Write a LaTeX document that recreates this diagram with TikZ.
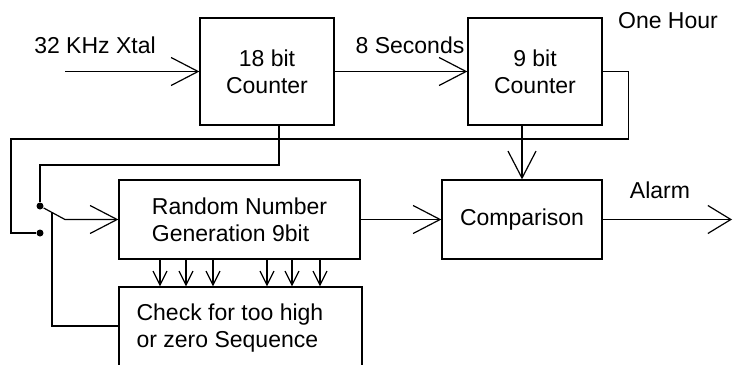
\documentclass[tikz,border=0pt]{standalone}
\usepackage{fontspec}
\setmainfont{Liberation Sans}
\usetikzlibrary{arrows.meta}
\begin{document}
\begin{tikzpicture}[x=1pt,y=-1pt,line width=1.2pt,
  txt/.style={font=\fontsize{23}{27}\selectfont},
  block/.style={txt,draw,rectangle,inner sep=0pt,align=center},
  lbl/.style={txt,inner sep=0pt,anchor=base},
  big/.style={-{Straight Barb[length=27pt,width=28pt]}},
  outarrow/.style={-{Straight Barb[length=23pt,width=28pt]}},
  small/.style={-{Straight Barb[length=14pt,width=14pt]}},
  dot/.style={circle,fill,inner sep=0pt,minimum size=7pt}]
\clip (0,0) rectangle (733,364);

% blocks
\node[block,minimum width=134pt,minimum height=107pt] (cnt18) at (267,71.5) {18 bit\\Counter};
\node[block,minimum width=134pt,minimum height=107pt] (cnt9) at (535,71.5) {9 bit\\Counter};
\node[block,align=left,minimum width=241pt,minimum height=79pt] (rng) at (239.5,219.5) {Random Number\\Generation 9bit};
\node[block,minimum width=160pt,minimum height=79pt] (cmp) at (522,219.5) {Comparison};
\node[draw,inner sep=0pt,minimum width=243pt,minimum height=100pt] (chk) at (240.5,337) {};
\node[lbl,anchor=north west,align=left] (chktxt) at (136,303) {Check for too high\\or zero Sequence};

% labels
\node[lbl] (xtal) at (95,53) {32 KHz Xtal};
\node[lbl] (sec) at (410,53) {8 Seconds};
\node[lbl] (hour) at (668,28) {One Hour};
\node[lbl] (alarm) at (660,198) {Alarm};

% switch contacts
\node[dot] (swA) at (40,206) {};
\node[dot] (swB) at (40,233) {};
\coordinate (arm) at (65,219.5);
\coordinate (tap) at (52,212.2);
\coordinate (xin) at (65,71.5);
\coordinate (xout) at (732,219.5);
\coordinate (t18) at (279,0);

% signal paths
\draw[big] (xin) -- (cnt18.west);
\draw[big] (cnt18.east) -- (cnt9.west);
\draw (cnt9.east) -- ++(26,0) |- (11,139) |- (swB);
\draw (cnt18.south -| t18) |- (40,165) -- (swA);
\draw[big] (swA) -- (arm) -- (rng.west);
\draw (tap) |- (chk.west |- 0,326);
\draw[big] (cnt9.south -| cmp.north) -- (cmp.north);
\draw[big] (rng.east) -- (cmp.west);
\draw[outarrow] (cmp.east) -- (xout);
\foreach \x in {160,186,213,267,292,320}
  \draw[small] (rng.south -| \x,0) -- (chk.north -| \x,0);
\end{tikzpicture}
\end{document}
